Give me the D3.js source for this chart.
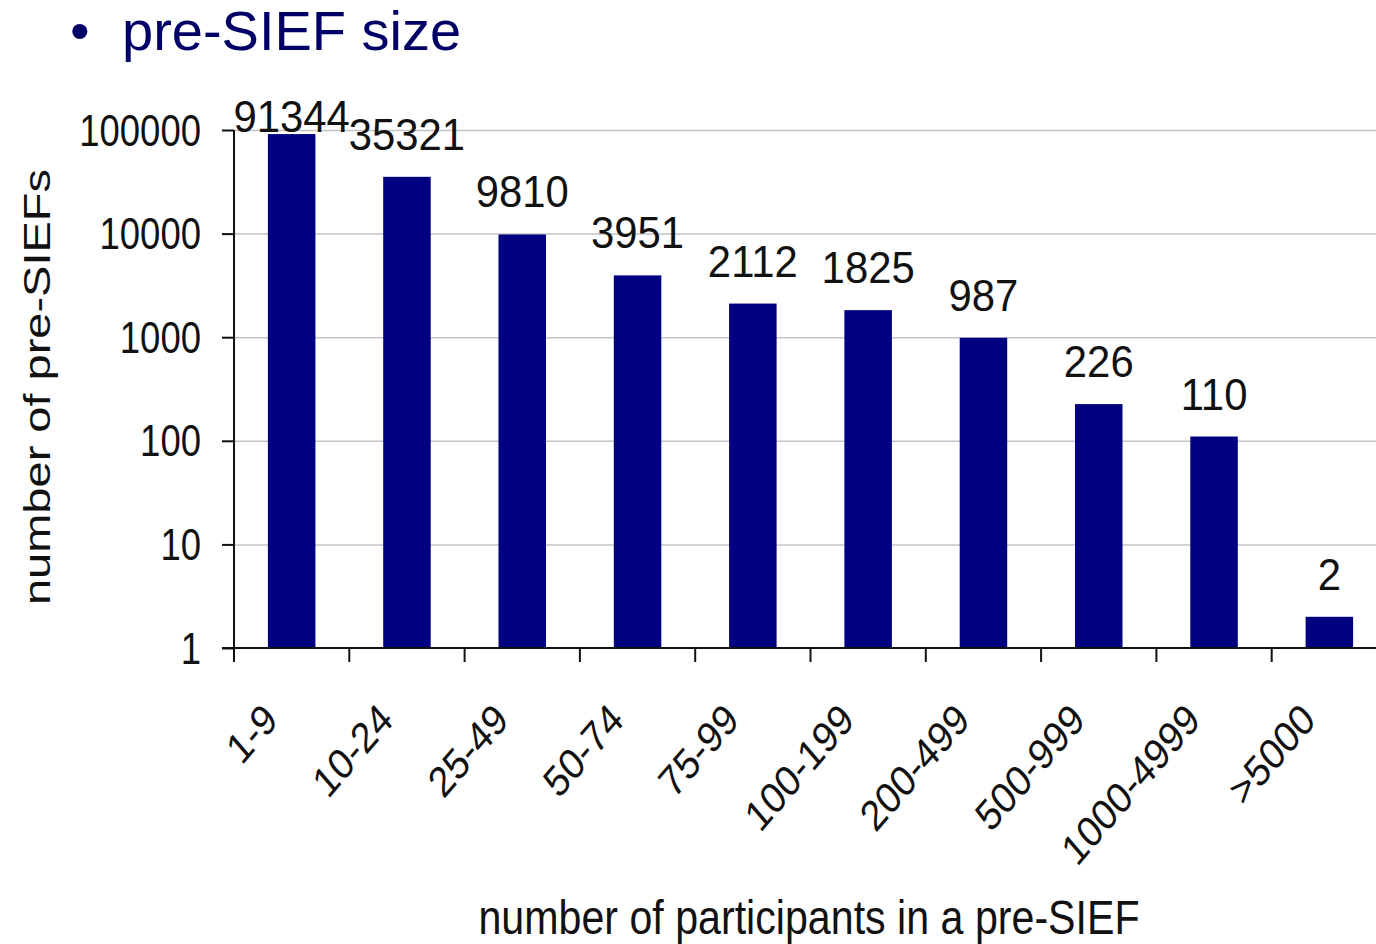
<!DOCTYPE html>
<html>
<head>
<meta charset="utf-8">
<script src="https://cdn.jsdelivr.net/npm/d3@7"></script>
<style>
  body { margin: 0; background: #fff; }
  svg { display: block; font-family: "Liberation Sans", Arial, Helvetica, sans-serif; }
</style>
</head>
<body>
<script>
//chart data
var categories = ["1-9", "10-24", "25-49", "50-74", "75-99", "100-199", "200-499", "500-999", "1000-4999", ">5000"];
var counts = [91344, 35321, 9810, 3951, 2112, 1825, 987, 226, 110, 2];
var yTicks = [1, 10, 100, 1000, 10000, 100000];

//page frame
var width = 1376,
    height = 944;

//plot area (the last band runs past the page edge, like the original)
var plotLeft = 234,
    plotRight = 1387,
    plotTop = 130,
    plotBottom = 648;

var svg = d3.select("body")
    .append("svg")
    .attr("width", width)
    .attr("height", height);

//scales
var x = d3.scaleBand()
    .domain(categories)
    .range([plotLeft, plotRight])
    .paddingInner(0.588)
    .paddingOuter(0.294);

var y = d3.scaleLog()
    .domain([1, 100000])
    .range([plotBottom, plotTop]);

//horizontal gridlines
var grid = svg.append("g")
    .attr("transform", "translate(" + plotLeft + ",0)")
    .call(d3.axisLeft(y).tickValues(yTicks.slice(1)).tickSize(-(width - plotLeft)).tickFormat(""));
grid.select(".domain").remove();
grid.selectAll("line").attr("stroke", "#c4c4c4").attr("stroke-width", 1.5);

//bars
svg.selectAll(".bar")
    .data(counts)
    .enter()
    .append("rect")
    .attr("class", "bar")
    .attr("x", function(d, i){ return x(categories[i]); })
    .attr("width", x.bandwidth())
    .attr("y", function(d){ return y(d); })
    .attr("height", function(d){ return plotBottom - y(d); })
    .attr("fill", "#000080");

//y axis
var yAxis = svg.append("g")
    .attr("transform", "translate(" + plotLeft + ",0)")
    .call(d3.axisLeft(y).tickValues(yTicks).tickFormat(d3.format("d")).tickSize(12).tickSizeOuter(0));
yAxis.select(".domain").attr("stroke", "#111").attr("stroke-width", 2)
    .attr("d", "M0," + plotTop + "V" + (plotBottom + 14));
yAxis.selectAll("line").attr("stroke", "#111").attr("stroke-width", 2);
yAxis.selectAll("text")
    .attr("x", 0)
    .attr("dy", null)
    .attr("y", 15)
    .attr("transform", "translate(-33,0) scale(0.83,1)")
    .attr("fill", "#111")
    .style("font-size", "44px")
    .style("font-family", "'Liberation Sans', Arial, sans-serif");

//x axis line with ticks at the category boundaries
var step = x.step(),
    gap = (step - x.bandwidth()) / 2;
svg.append("line")
    .attr("x1", plotLeft - 12)
    .attr("x2", width)
    .attr("y1", plotBottom)
    .attr("y2", plotBottom)
    .attr("stroke", "#111")
    .attr("stroke-width", 2);
svg.selectAll(".xtick")
    .data(categories)
    .enter()
    .append("line")
    .attr("class", "xtick")
    .attr("x1", function(d){ return x(d) - gap; })
    .attr("x2", function(d){ return x(d) - gap; })
    .attr("y1", plotBottom)
    .attr("y2", plotBottom + 14)
    .attr("stroke", "#111")
    .attr("stroke-width", 2);

//rotated category labels
svg.selectAll(".xlabel")
    .data(categories)
    .enter()
    .append("text")
    .attr("class", "xlabel")
    .attr("text-anchor", "end")
    .attr("transform", function(d){
        return "translate(" + (x(d) + x.bandwidth() / 2 - 12) + ",722) scale(0.86,1) rotate(-45)";
    })
    .attr("fill", "#111")
    .style("font-size", "43px")
    .text(function(d){ return d; });

//value labels above bars (kept inside the chart top)
svg.selectAll(".vlabel")
    .data(counts)
    .enter()
    .append("text")
    .attr("class", "vlabel")
    .attr("text-anchor", "middle")
    .attr("transform", function(d, i){
        var ty = Math.max(y(d) - 27, 132);
        return "translate(" + (x(categories[i]) + x.bandwidth() / 2) + "," + ty + ") scale(0.93,1)";
    })
    .attr("fill", "#111")
    .style("font-size", "45px")
    .text(function(d){ return d; });

//axis titles
svg.append("text")
    .attr("text-anchor", "middle")
    .attr("transform", "translate(50,387) scale(0.8,1) rotate(-90)")
    .attr("fill", "#111")
    .style("font-size", "47px")
    .text("number of pre-SIEFs");

svg.append("text")
    .attr("text-anchor", "middle")
    .attr("transform", "translate(809,934) scale(0.84,1)")
    .attr("fill", "#111")
    .style("font-size", "49px")
    .text("number of participants in a pre-SIEF");

//slide heading
svg.append("text")
    .attr("x", 70)
    .attr("y", 50)
    .attr("fill", "#000066")
    .style("font-size", "56px")
    .text("\u2022");

svg.append("text")
    .attr("x", 122)
    .attr("y", 50)
    .attr("fill", "#000066")
    .style("font-size", "56px")
    .text("pre-SIEF size");
</script>
</body>
</html>
